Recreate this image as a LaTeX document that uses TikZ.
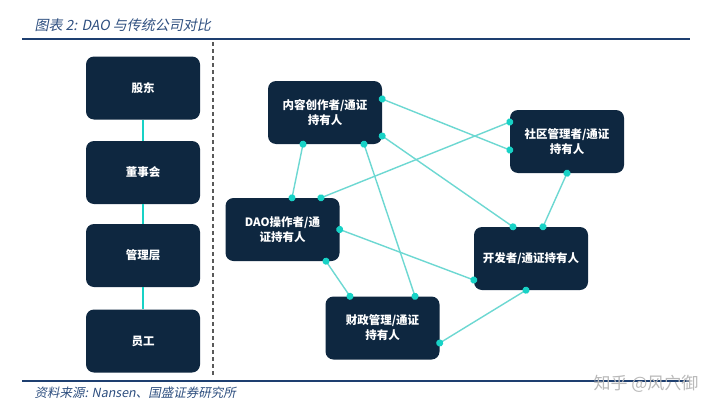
\documentclass[tikz,border=0pt]{standalone}
\usepackage{fontspec}
\usetikzlibrary{arrows.meta}
\newfontfamily\cjk{Noto Sans CJK SC}
\newfontfamily\cjkslant{Noto Sans CJK SC}[FakeSlant=0.2]
\definecolor{navy}{HTML}{0E2740}
\definecolor{rulec}{HTML}{1E3F70}
\definecolor{linkc}{HTML}{6DD8D2}
\definecolor{dotc}{HTML}{18D2C6}
\definecolor{capc}{HTML}{2E4F80}
\tikzset{
  box/.style={fill=navy, rounded corners=8pt, minimum width=114pt, minimum height=63pt,
    inner sep=0pt, align=center, text=white, font=\cjk\bfseries\fontsize{11.5}{15}\selectfont},
  stem/.style={draw=dotc, line width=2pt},
  link/.style={draw=linkc, line width=1.4pt,
    {Circle[length=7pt,color=dotc]}-{Circle[length=7pt,color=dotc]},
    shorten <=-3.5pt, shorten >=-3.5pt},
}
\begin{document}
\begin{tikzpicture}[x=1pt,y=-1pt]
			\useasboundingbox (0,0) rectangle (720,415);
			\fill[white] (0,0) rectangle (720,415);
			% title and rules
			\node[anchor=west, text=capc, font=\cjkslant\fontsize{14}{16}\selectfont] (title) at (31,25) {图表 2: DAO 与传统公司对比};
			\draw[rulec, line width=2pt] (22,39) -- (690,39);
			\draw[rulec, line width=2pt] (22,381) -- (690,381);
			\draw[gray!70!black, line width=1.3pt, dash pattern=on 4pt off 3pt] (213,42) -- (213,377);
			% traditional company
			\node[box] (holder) at (143,88) {股东};
			\node[box] (board) at (143,172.5) {董事会};
			\node[box] (mgmt) at (143,255.5) {管理层};
			\node[box] (staff) at (143,341) {员工};
			\draw[stem] (holder.south) -- (board.north);
			\draw[stem] (board.south) -- (mgmt.north);
			\draw[stem] (mgmt.south) -- (staff.north);
			% DAO
			\node[box] (creator) at (325,112.5) {内容创作者/通证\\持有人};
			\node[box] (community) at (567,141.5) {社区管理者/通证\\持有人};
			\node[box] (operator) at (282.5,229.5) {DAO操作者/通\\证持有人};
			\node[box] (developer) at (531,258.5) {开发者/通证持有人};
			\node[box] (treasury) at (382.5,328) {财政管理/通证\\持有人};
			\draw[link] ([xshift=-22pt]creator.south) -- ([xshift=9.5pt]operator.north);
			\draw[link] ([yshift=13.5pt]creator.east) -- ([yshift=-8.5pt]community.west);
			\draw[link] ([xshift=38.5pt]operator.north) -- ([yshift=19.5pt]community.west);
			\draw[link] ([yshift=-23.5pt]creator.east) -- ([xshift=-18pt]developer.north);
			\draw[link] ([xshift=39pt]creator.south) -- ([xshift=32.5pt]treasury.north);
			\draw[link] (operator.east) -- ([yshift=-21.5pt]developer.west);
			\draw[link] ([xshift=43.5pt]operator.south) -- ([xshift=-32.5pt]treasury.north);
			\draw[link] (community.south) -- ([xshift=12pt]developer.north);
			\draw[link] ([xshift=-5pt]developer.south) -- ([yshift=-15pt]treasury.east);
			% source
			\node[anchor=west, text=capc, font=\cjkslant\fontsize{12.5}{14}\selectfont] (source) at (31,393) {资料来源: Nansen、国盛证券研究所};
			\node[text=gray!55, font=\cjk\fontsize{17}{19}\selectfont] (mark) at (646,384) {知乎 @风穴御};
		\end{tikzpicture}
\end{document}
